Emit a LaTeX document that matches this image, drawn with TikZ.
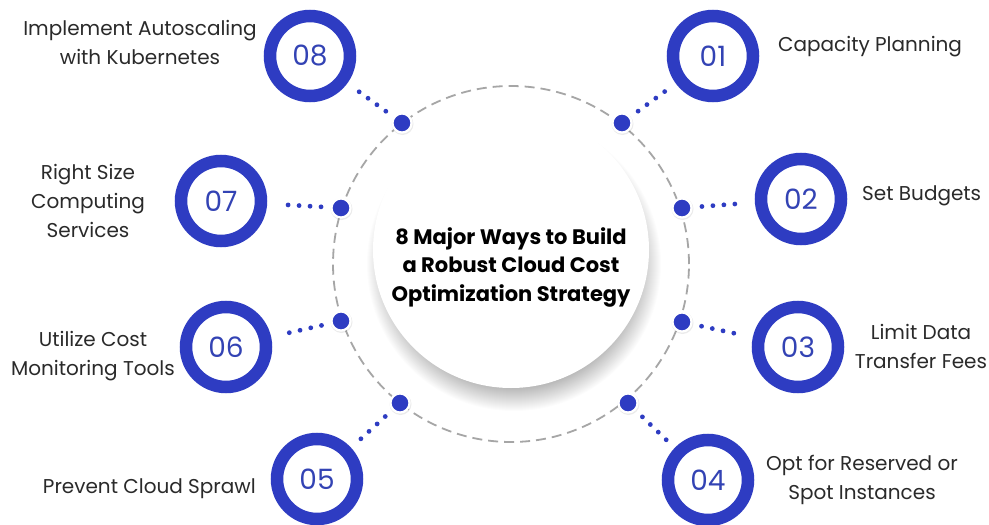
\documentclass[tikz,border=0pt]{standalone}
\usepackage{fontspec}
\setmainfont{Poppins}
\usetikzlibrary{calc}
\definecolor{ringblue}{HTML}{2E3CC2}
\definecolor{numblue}{HTML}{3343B4}
\definecolor{txt}{HTML}{2A2A2A}
\definecolor{dashgray}{HTML}{A6A6A6}
\tikzset{
  ring/.style={circle, draw=ringblue, line width=12.5pt, fill=white, minimum size=80pt, inner sep=0pt,
    text=numblue, font=\fontsize{28}{30}\selectfont},
  bigdot/.style={circle, fill=ringblue, draw=white, line width=2.2pt, minimum size=19pt, inner sep=0pt},
  lbl/.style={text=txt, font=\fontsize{20}{29}\selectfont, align=center, inner sep=0pt},
  title/.style={text=black, font=\bfseries\fontsize{21}{28.5}\selectfont, align=center, inner sep=0pt},
}
\begin{document}
\begin{tikzpicture}[x=1pt,y=-1pt]
\useasboundingbox (0,0) rectangle (989,525);
\fill[white] (0,0) rectangle (989,525);
% centre shadow and disc
\coordinate (sc) at (514,264);
\foreach \r in {124,...,147} {\fill[black,opacity=0.013] (sc) circle[radius=\r pt];}
\fill[white] (511,250) circle[radius=138pt];
% dashed circle
\coordinate (cc) at (511,264);
\draw[dashgray, line width=1.8pt, dash pattern=on 10pt off 6pt] (cc) circle[radius=178pt];
% title
\node[title] (t) at (511,267) {8 Major Ways to Build\\a Robust Cloud Cost\\Optimization Strategy};
% rings
\node[ring] (r1) at (713,56) {01};
\node[ring] (r2) at (801,199) {02};
\node[ring] (r3) at (798,347) {03};
\node[ring] (r4) at (708,480) {04};
\node[ring] (r5) at (317,479) {05};
\node[ring] (r6) at (226,347) {06};
\node[ring] (r7) at (221,201) {07};
\node[ring] (r8) at (310,56) {08};
% dot shadows and dots
\foreach \p/\n in {{(622,123)}/d1,{(682,208)}/d2,{(682,322)}/d3,{(628,403)}/d4,{(400,403)}/d5,{(341,321)}/d6,{(341,208)}/d7,{(402,123)}/d8}{
  \fill[black,opacity=0.08] \p ++(0.5,1) circle[radius=11pt];
  \node[bigdot] (\n) at \p {};
}
% dotted connectors
\foreach \i in {1,...,8}{
  \foreach \d in {20,31,42,53}{
    \fill[ringblue] ($(d\i)!\d pt!(r\i)$) circle[radius=2.4pt];
  }
}
% labels
\node[lbl, anchor=west] (l1) at (778,47) {Capacity Planning};
\node[lbl, anchor=west] (l2) at (862,196) {Set Budgets};
\node[lbl] (l3) at (921,346) {Limit Data\\Transfer Fees};
\node[lbl] (l4) at (862,480) {Opt for Reserved or\\Spot Instances};
\node[lbl, anchor=east] (l5) at (256,489) {Prevent Cloud Sprawl};
\node[lbl] (l6) at (93,356) {Utilize Cost\\Monitoring Tools};
\node[lbl] (l7) at (88,201) {Right Size\\Computing\\Services};
\node[lbl] (l8) at (140,42) {Implement Autoscaling\\with Kubernetes};
\end{tikzpicture}
\end{document}
